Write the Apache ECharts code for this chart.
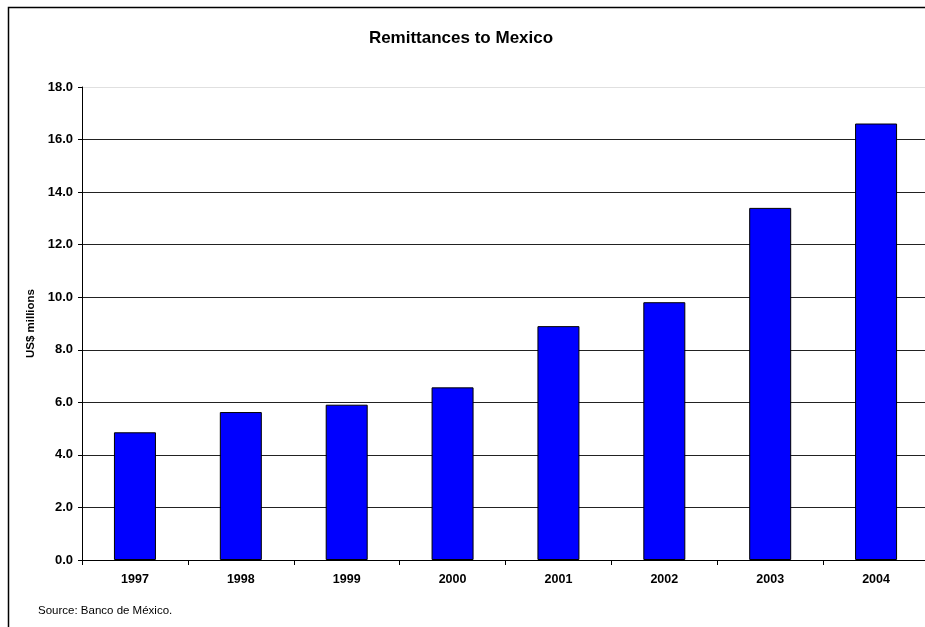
<!DOCTYPE html>
<html><head><meta charset="utf-8">
<script src="https://cdn.jsdelivr.net/npm/echarts@6/dist/echarts.min.js"></script>
<style>html,body{margin:0;padding:0;background:#fff}#c{width:925px;height:627px}</style>
</head><body><div id="c"></div>
<script>
const categories = ['1997','1998','1999','2000','2001','2002','2003','2004'];
const remittances = [4.86, 5.63, 5.91, 6.57, 8.90, 9.81, 13.40, 16.61];
const yTicks = [0, 2, 4, 6, 8, 10, 12, 14, 16, 18];
const chart = echarts.init(document.getElementById('c'));
const F = 'Liberation Sans, Arial, sans-serif';
chart.setOption({
  animation: false,
  title: { text: 'Remittances to Mexico', left: 456, top: 25, textAlign: 'center',
    textStyle: { fontFamily: F, fontWeight: 'bold', fontSize: 17, color: '#000' } },
  graphic: [
    { type: 'rect', shape: { x: 8.5, y: 7.5, width: 1000, height: 700 }, style: { fill: 'none', stroke: '#000', lineWidth: 1.5 }, z: -1 },
    { type: 'text', left: 38, top: 605, style: { text: 'Source: Banco de México.', font: '11.5px ' + F, fill: '#000' } }
  ],
  grid: { left: 82, top: 87, width: 847, height: 473, containLabel: false, outerBoundsMode: 'none' },
  xAxis: { type: 'category', data: categories,
    axisLine: { lineStyle: { color: '#000', width: 1 } },
    axisTick: { show: true, length: 5, interval: 0, lineStyle: { color: '#000' } },
    axisLabel: { fontFamily: F, fontWeight: 'bold', fontSize: 12.5, color: '#000', margin: 13 } },
  yAxis: { type: 'value', min: yTicks[0], max: yTicks[yTicks.length-1], interval: 2,
    name: 'US$ millions', nameLocation: 'middle', nameGap: 41, nameRotate: 90,
    nameTextStyle: { fontFamily: F, fontWeight: 'bold', fontSize: 11.5, color: '#000' },
    axisLine: { show: true, lineStyle: { color: '#000', width: 1 } },
    axisTick: { show: true, length: 4, lineStyle: { color: '#000' } },
    axisLabel: { fontFamily: F, fontWeight: 'bold', fontSize: 13, color: '#000', margin: 9,
      formatter: v => v.toFixed(1) },
    splitLine: { show: true, lineStyle: { color: ['#222','#222','#222','#222','#222','#222','#222','#222','#222','#e0e0e0'], width: 1 } } },
  series: [{ type: 'bar', data: remittances, barWidth: 42,
    itemStyle: { color: '#0000ff', borderColor: '#000', borderWidth: 1 } }]
});
</script></body></html>
